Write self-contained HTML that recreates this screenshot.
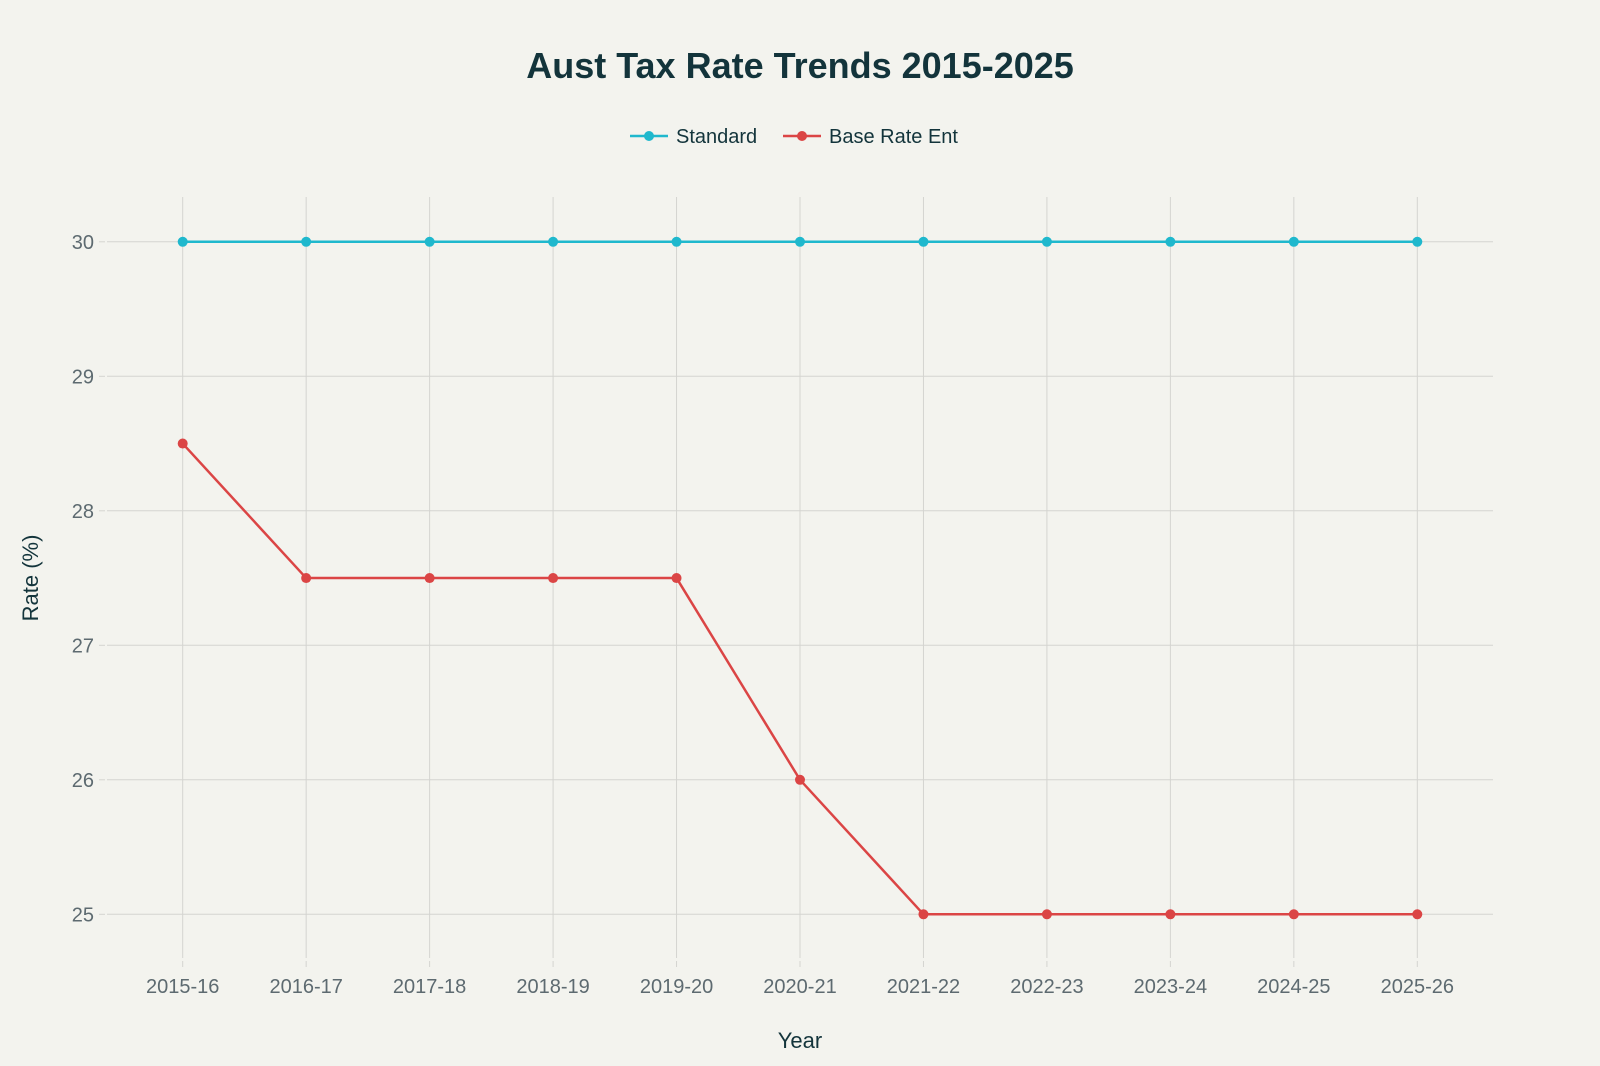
<!DOCTYPE html>
<html><head><meta charset="utf-8"><style>
html,body{margin:0;padding:0;background:#f3f3ee;}
svg{display:block;font-family:"Liberation Sans",sans-serif;}
</style></head><body>
<svg width="1600" height="1066" viewBox="0 0 1600 1066">
<rect width="1600" height="1066" fill="#f3f3ee"/>
<text x="800" y="78" text-anchor="middle" font-size="36" font-weight="bold" fill="#13343b">Aust Tax Rate Trends 2015-2025</text>
<g font-size="20" fill="#13343b">
<line x1="630" y1="136" x2="668" y2="136" stroke="#1fb8cd" stroke-width="2.5"/><circle cx="649" cy="136" r="5" fill="#1fb8cd"/>
<text x="676" y="143">Standard</text>
<line x1="783" y1="136" x2="821" y2="136" stroke="#db4545" stroke-width="2.5"/><circle cx="802" cy="136" r="5" fill="#db4545"/>
<text x="829" y="143">Base Rate Ent</text>
</g>
<g id="grid" stroke="#d4d4d0" stroke-width="1"></g>
<g id="labels" font-size="20" fill="#5d6a70"></g>
<text x="800" y="1048" text-anchor="middle" font-size="22" fill="#13343b">Year</text>
<text transform="translate(38,578) rotate(-90)" text-anchor="middle" font-size="22" fill="#13343b">Rate (%)</text>
<g id="series"></g>
</svg>
<script>
const ns="http://www.w3.org/2000/svg";
function el(p,t,a,txt){const e=document.createElementNS(ns,t);for(const k in a)e.setAttribute(k,a[k]);if(txt)e.textContent=txt;p.appendChild(e);return e;}
const g=document.getElementById('grid'),L=document.getElementById('labels'),S=document.getElementById('series');
const X=i=>182.7+i*123.46, Y=v=>241.8+(30-v)*134.5;
const yrs=["2015-16","2016-17","2017-18","2018-19","2019-20","2020-21","2021-22","2022-23","2023-24","2024-25","2025-26"];
for(let v=25;v<=30;v++){el(g,'line',{x1:107,x2:1493,y1:Y(v),y2:Y(v)});el(g,'line',{x1:99,x2:105,y1:Y(v),y2:Y(v)});
el(L,'text',{x:94,y:Y(v)+7,'text-anchor':'end'},String(v));}
yrs.forEach((t,i)=>{el(g,'line',{x1:X(i),x2:X(i),y1:197,y2:958});el(g,'line',{x1:X(i),x2:X(i),y1:961,y2:967});
el(L,'text',{x:X(i),y:993,'text-anchor':'middle'},t);});
const std=Array(11).fill(30), bre=[28.5,27.5,27.5,27.5,27.5,26,25,25,25,25,25];
[[std,'#1fb8cd'],[bre,'#db4545']].forEach(([d,c])=>{
el(S,'polyline',{points:d.map((v,i)=>X(i)+','+Y(v)).join(' '),fill:'none',stroke:c,'stroke-width':2.5});
d.forEach((v,i)=>el(S,'circle',{cx:X(i),cy:Y(v),r:5,fill:c}));});
</script>
</body></html>
